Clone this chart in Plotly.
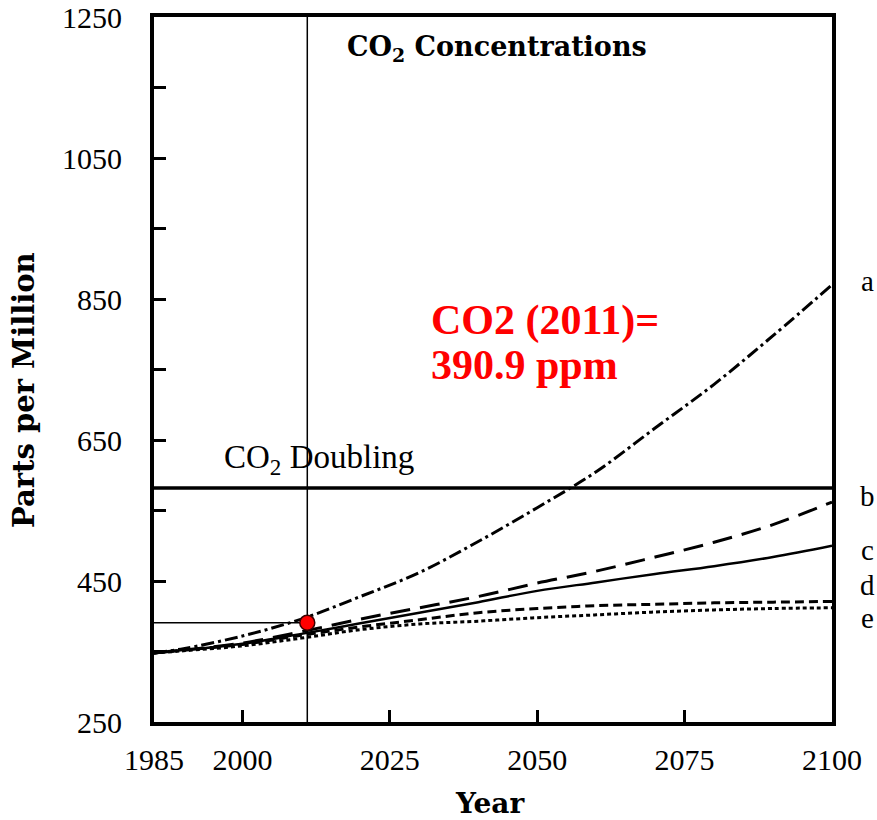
import plotly.graph_objects as go

# CO2 concentration scenarios (ppm) by year
years = [1985, 1990, 2000, 2010, 2020, 2030, 2040, 2050, 2060, 2070, 2080, 2090, 2100]
scenario_a = [348, 354, 372, 396, 428, 462, 506, 554, 605, 667, 729, 798, 870]
scenario_b = [348, 352, 362, 378, 396, 412, 428, 447, 464, 484, 505, 530, 562]
scenario_c = [348, 352, 361, 375, 390, 405, 420, 436, 448, 460, 471, 484, 500]
scenario_d = [348, 352, 360, 373, 385, 395, 405, 411, 415, 417, 419, 420, 421]
scenario_e = [348, 351, 358, 369, 381, 389, 393, 398, 402, 406, 409, 411, 412]
scenario_labels = ["a", "b", "c", "d", "e"]

doubling_ppm = 582
obs_year = 2011
obs_ppm = 390.9

x_tick_vals = [1985, 2000, 2025, 2050, 2075, 2100]
y_label_vals = [250, 450, 650, 850, 1050, 1250]
y_minor_vals = [350, 550, 750, 950, 1150]

series = [scenario_a, scenario_b, scenario_c, scenario_d, scenario_e]
styles = [
    dict(dash="13px,4px,3px,4px", width=3),
    dict(dash="20px,10px", width=3),
    dict(dash="solid", width=2.5),
    dict(dash="9px,5px", width=3),
    dict(dash="4px,3px", width=3),
]
# vertical nudges (px) for the end-of-curve letters
label_shift = [4, 6, -4, 16, -10]

serif = "Liberation Serif"
bold_serif = "DejaVu Serif"

fig = go.Figure()

# CO2 doubling reference
fig.add_trace(go.Scatter(
    x=[years[0], years[-1]], y=[doubling_ppm, doubling_ppm], mode="lines",
    line=dict(color="black", width=3.5), hoverinfo="skip", showlegend=False))

for vals, st, name in zip(series, styles, scenario_labels):
    fig.add_trace(go.Scatter(
        x=years, y=vals, mode="lines", name=name,
        line=dict(color="black", width=st["width"], dash=st["dash"], shape="spline"),
        showlegend=False))

# 2011 observation guides
fig.add_trace(go.Scatter(
    x=[years[0], obs_year], y=[obs_ppm, obs_ppm], mode="lines",
    line=dict(color="black", width=1.5), hoverinfo="skip", showlegend=False))
fig.add_trace(go.Scatter(
    x=[obs_year, obs_year], y=[y_label_vals[0], y_label_vals[-1]], mode="lines",
    line=dict(color="black", width=1.5), hoverinfo="skip", showlegend=False))
fig.add_trace(go.Scatter(
    x=[obs_year], y=[obs_ppm], mode="markers",
    marker=dict(color="#ff0000", size=15, line=dict(color="#3a0000", width=1.5)),
    showlegend=False))

annotations = []
for vals, name, dy in zip(series, scenario_labels, label_shift):
    annotations.append(dict(
        x=1, xref="paper", xanchor="center", xshift=35,
        y=vals[-1], yref="y", yanchor="middle", yshift=dy,
        text=name, showarrow=False, font=dict(family=serif, size=29, color="black")))

annotations += [
    dict(x=0.1, xref="paper", xanchor="left", y=doubling_ppm, yref="y",
         yanchor="bottom", yshift=6, text="CO<sub>2</sub> Doubling", showarrow=False,
         font=dict(family=serif, size=33, color="black")),
    dict(x=0.2817, xref="paper", xanchor="left", y=0.955, yref="paper",
         yanchor="middle", text="<b>CO<sub>2</sub> Concentrations</b>", showarrow=False,
         font=dict(family=bold_serif, size=27, color="black")),
    dict(x=0.405, xref="paper", xanchor="left", y=0.570, yref="paper",
         yanchor="middle", text="<b>CO2 (2011)=</b>", showarrow=False,
         font=dict(family=serif, size=42, color="#ff0000")),
    dict(x=0.405, xref="paper", xanchor="left", y=0.506, yref="paper",
         yanchor="middle", text="<b>390.9 ppm</b>", showarrow=False,
         font=dict(family=serif, size=42, color="#ff0000")),
    dict(x=-0.1917, xref="paper", xanchor="center", y=0.471, yref="paper",
         yanchor="middle", textangle=-90, text="<b>Parts per Million</b>", showarrow=False,
         font=dict(family=bold_serif, size=29, color="black")),
    dict(x=0.496, xref="paper", xanchor="center", y=-0.115, yref="paper",
         yanchor="middle", text="<b>Year</b>", showarrow=False,
         font=dict(family=bold_serif, size=28, color="black")),
]

fig.update_layout(
    width=877, height=820,
    margin=dict(l=154, r=45, t=17, b=98),
    paper_bgcolor="white", plot_bgcolor="white",
    annotations=annotations,
    showlegend=False,
)
fig.update_xaxes(
    range=[1985, 2100], tickvals=x_tick_vals, automargin=False,
    ticks="inside", ticklen=12, tickwidth=3, tickcolor="black",
    showline=True, linewidth=4, linecolor="black", mirror=True,
    showgrid=False, zeroline=False, ticklabelstandoff=8,
    tickfont=dict(family=serif, size=30, color="black"),
)
fig.update_yaxes(
    range=[250, 1250], tickvals=y_label_vals, automargin=False,
    ticks="inside", ticklen=12, tickwidth=3, tickcolor="black",
    minor=dict(tickvals=y_minor_vals, ticks="inside", ticklen=12, tickwidth=3,
               tickcolor="black", showgrid=False),
    showline=True, linewidth=4, linecolor="black", mirror=True,
    showgrid=False, zeroline=False, ticklabelstandoff=22,
    tickfont=dict(family=serif, size=30, color="black"),
)

fig.write_html("out.html")
